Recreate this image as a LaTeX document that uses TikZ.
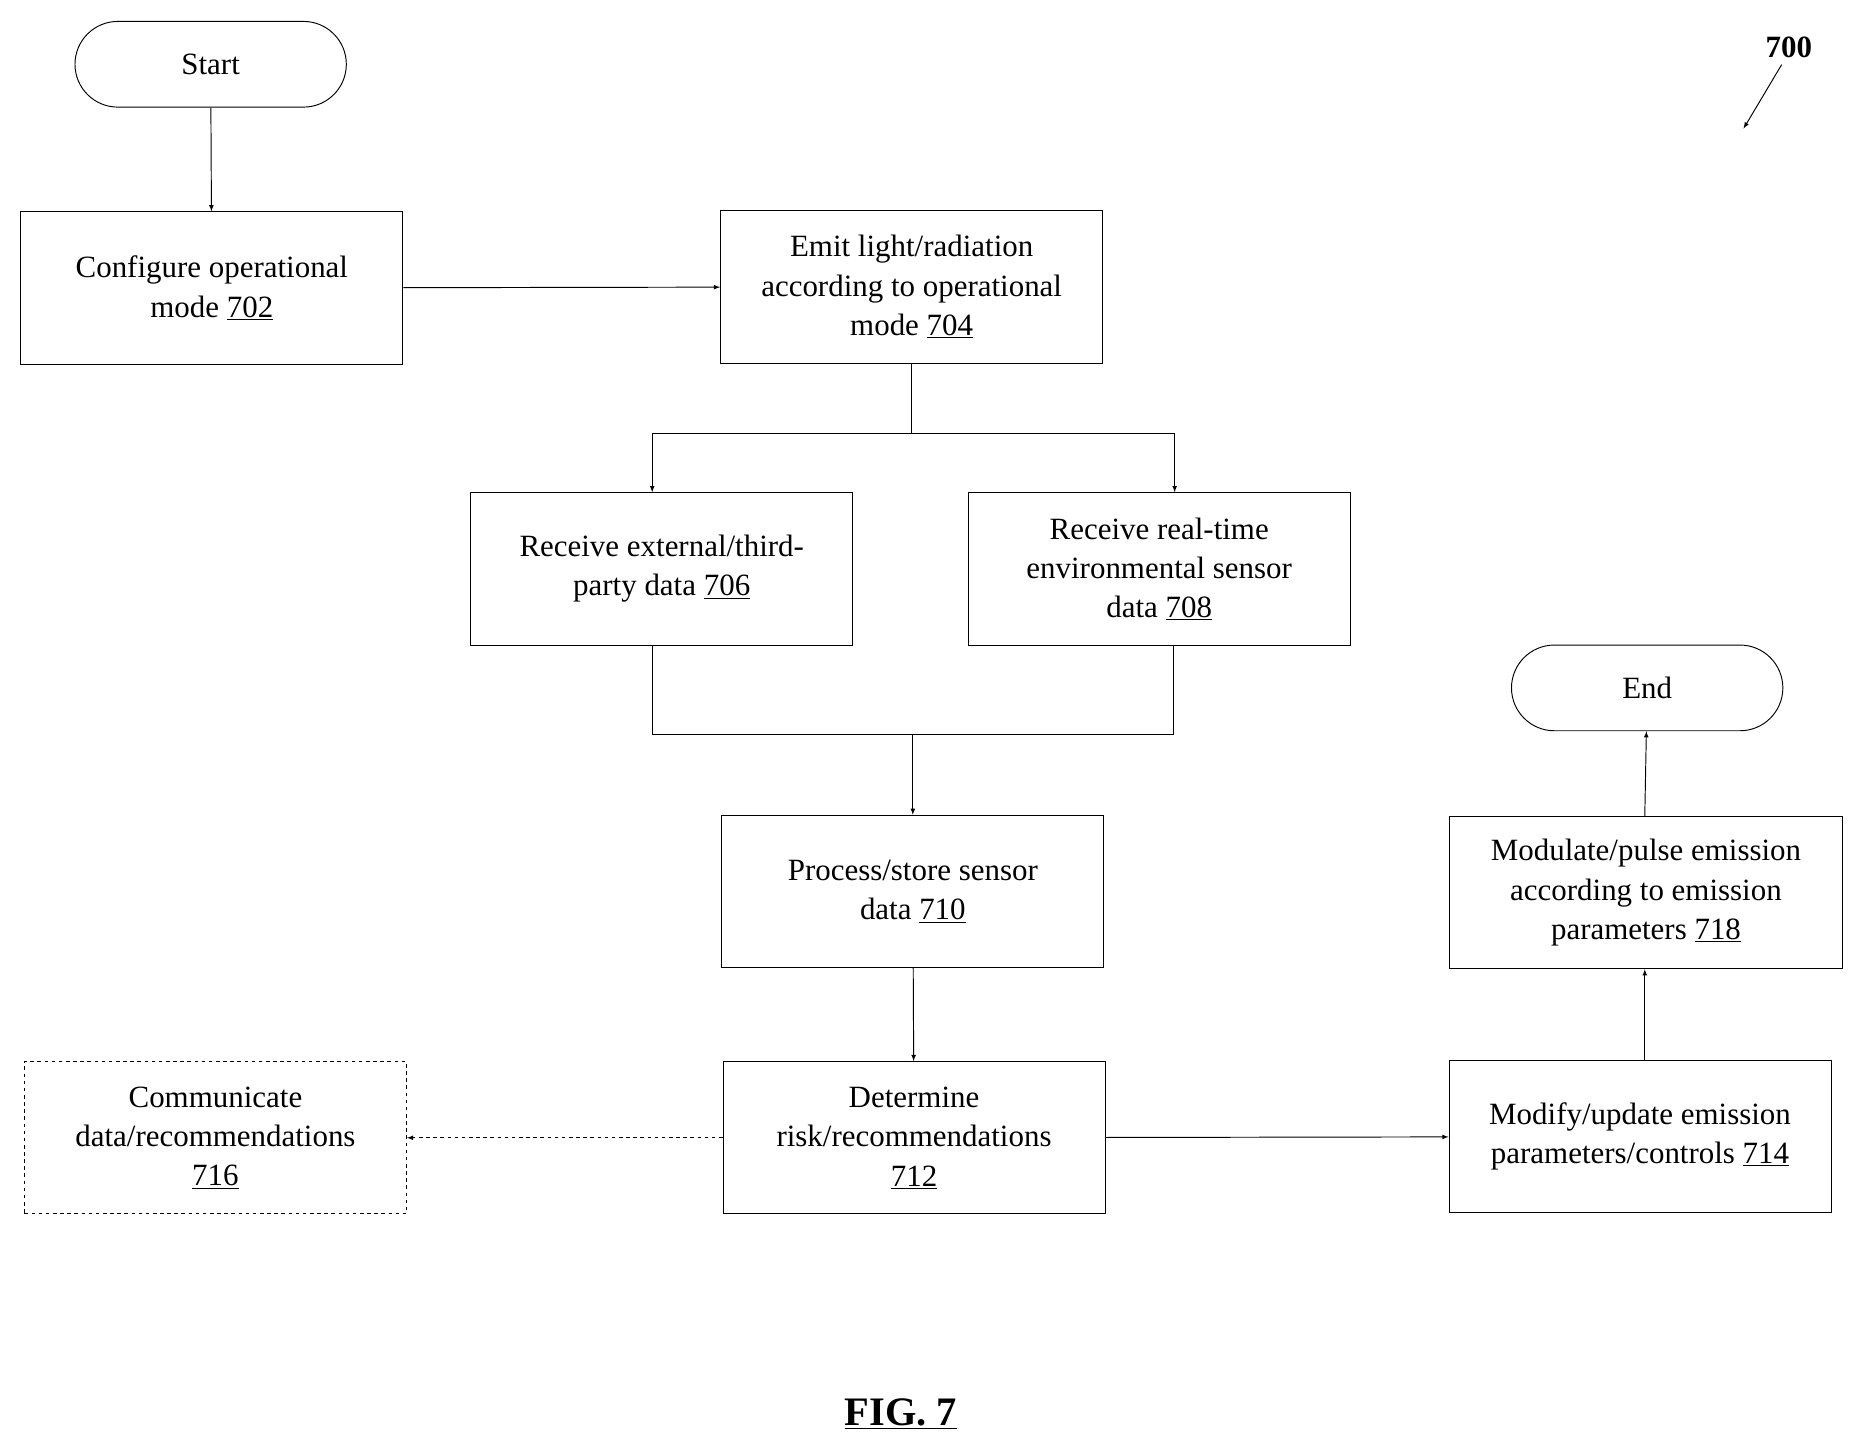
\documentclass[tikz,border=0pt]{standalone}
\usepackage{fontspec}
\setmainfont{Liberation Serif}
\usetikzlibrary{arrows, shapes, positioning, calc}
\tikzset{stage/.style = {
  rectangle, draw, thick,
  minimum width=321pt, minimum height=128pt,
  text centered, align=center,
  font=\fontsize{26}{33}\selectfont
  }}
\tikzset{term/.style = {
  rectangle, draw, thick, rounded corners=36pt,
  minimum width=228pt, minimum height=72pt,
  font=\fontsize{26}{33}\selectfont
  }}
\tikzset{arrow/.style = {
  -latex, thick
  }}
\newcommand{\stepno}[1]{\underline{#1}}

\begin{document}
\begin{tikzpicture}[x=1pt, y=-1pt]
\useasboundingbox (0,0) rectangle (1562,1220);

% NODES
\node (start) [term] at (177,54) {Start};
\node (config) [stage] at (178,242) {Configure operational\\mode \stepno{702}};
\node (emit) [stage] at (766,241) {Emit light/radiation\\according to operational\\mode \stepno{704}};
\node (external) [stage] at (556,478) {Receive external/third-\\party data \stepno{706}};
\node (sensor) [stage] at (974,478) {Receive real-time\\environmental sensor\\data \stepno{708}};
\node (process) [stage] at (767,749) {Process/store sensor\\data \stepno{710}};
\node (risk) [stage] at (768,956) {Determine\\risk/recommendations\\\stepno{712}};
\node (comm) [stage, dashed] at (181,956) {Communicate\\data/recommendations\\\stepno{716}};
\node (modify) [stage] at (1378,955) {Modify/update emission\\parameters/controls \stepno{714}};
\node (modulate) [stage, minimum width=331pt] at (1383,750) {Modulate/pulse emission\\according to emission\\parameters \stepno{718}};
\node (end) [term] at (1384,578) {End};

\node (fignum) [font=\fontsize{26}{30}\selectfont\bfseries] at (1503,40) {700};
\coordinate (figtip) at (1465,108);
\node (caption) [font=\fontsize{34}{40}\selectfont\bfseries] at (757,1188) {\underline{FIG. 7}};

% arrows
\draw [arrow] (start) -- (config);
\draw [arrow] (config) -- (emit);
\draw [thick] (emit.south) -- ++(0,59) coordinate (split);
\draw [arrow] (split) -| ($(external.north)+(-8,0)$);
\draw [arrow] (split) -| ($(sensor.north)+(13,0)$);
\draw [thick] ($(external.south)+(-8,0)$) |- (767,617) coordinate (join);
\draw [thick] ($(sensor.south)+(12,0)$) |- (join);
\draw [arrow] (join) -- (process);
\draw [arrow] (process) -- (risk);
\draw [arrow, dashed] (risk) -- (comm);
\draw [arrow] (risk) -- (modify);
\draw [arrow] ($(modify.north)+(4,0)$) -- ($(modulate.south)+(-1,0)$);
\draw [arrow] ($(modulate.north)+(-1,0)$) -- (end);
\draw [arrow] ($(fignum.south)+(-6,2)$) -- (figtip);
\end{tikzpicture}
\end{document}
